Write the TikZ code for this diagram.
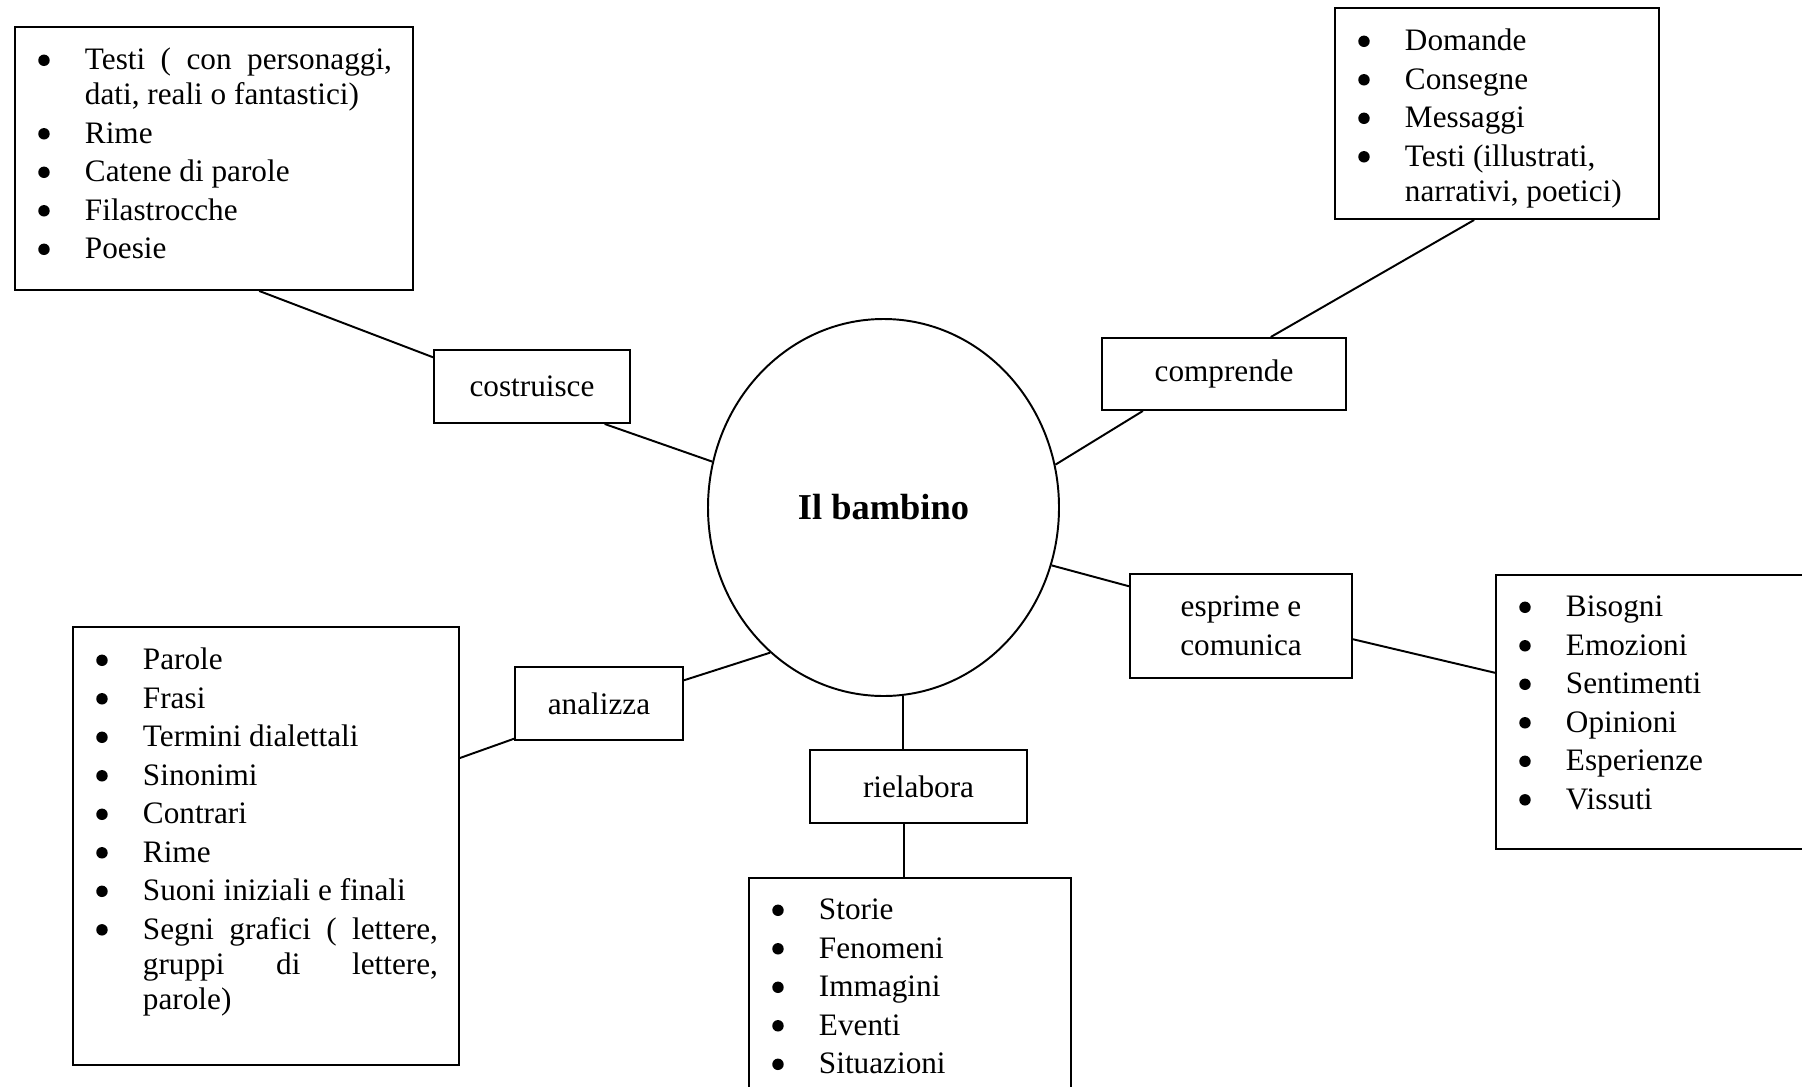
\documentclass[tikz,border=0pt]{standalone}
\usepackage{fontspec}
\setmainfont{Liberation Serif}
\usetikzlibrary{shapes.geometric,calc}

\newlength{\pxl}
\setlength{\pxl}{0.0135cm}
% bullet lists as in the word processor
\newcommand{\bigdot}{\tikz[baseline=0pt]\fill (0,3.6pt) circle (2.2pt);}
\newenvironment{bullets}{\begin{list}{\makebox[0pt]{\bigdot}}{%
  \setlength{\leftmargin}{70\pxl}\setlength{\labelwidth}{0pt}%
  \setlength{\labelsep}{41\pxl}\setlength{\rightmargin}{21\pxl}%
  \setlength{\itemsep}{3.5\pxl}\setlength{\parsep}{0pt}%
  \setlength{\topsep}{0pt}\setlength{\partopsep}{0pt}}}{\end{list}}
\newcommand{\itembox}[3]{\makebox[#1\pxl][l]{\parbox[c][#2\pxl][t]{#1\pxl}{\vspace*{21\pxl}\begin{bullets}#3\end{bullets}}}}

\tikzset{
  listbox/.style={draw, line width=0.75pt, inner sep=0pt, anchor=north west},
  verbbox/.style={draw, line width=0.75pt, inner sep=0pt, align=center},
  link/.style={line width=0.75pt},
}

\begin{document}
\begin{tikzpicture}[x=0.0135cm, y=-0.0135cm, font=\fontsize{12pt}{13.45pt}\selectfont]
    \path[use as bounding box, fill=white] (0,0) rectangle (1802,1086);

    \node[draw, ellipse, line width=0.75pt, minimum width=351*\pxl, minimum height=377*\pxl,
          font=\fontsize{14pt}{16pt}\selectfont\bfseries] (bam) at (883.5,507.5) {Il bambino};

    \node[verbbox, minimum width=196*\pxl, minimum height=73*\pxl] (costr) at (532,386.5) {costruisce};
    \node[verbbox, minimum width=244*\pxl, minimum height=72*\pxl] (compr) at (1224,374) {comprende};
    \node[verbbox, minimum width=222*\pxl, minimum height=104*\pxl] (espr) at (1241,626) {esprime e\\[1.5pt]comunica};
    \node[verbbox, minimum width=168*\pxl, minimum height=73*\pxl] (anal) at (599,703.5) {analizza};
    \node[verbbox, minimum width=217*\pxl, minimum height=73*\pxl] (riel) at (918.5,786.5) {rielabora};

    \node[listbox] (l1) at (14,26) {\itembox{398}{263}{%
        \item Testi ( con personaggi,\linebreak dati, reali o fantastici)
        \item Rime
        \item Catene di parole
        \item Filastrocche
        \item Poesie}};
    \node[listbox] (l2) at (1334,7) {\itembox{324}{211}{%
        \item Domande
        \item Consegne
        \item Messaggi
        \item Testi (illustrati,\newline narrativi, poetici)}};
    \node[listbox] (l3) at (1495,574) {\itembox{330}{274}{%
        \item Bisogni
        \item Emozioni
        \item Sentimenti
        \item Opinioni
        \item Esperienze
        \item Vissuti}};
    \node[listbox] (l4) at (72,626) {\itembox{386}{438}{%
        \item Parole
        \item Frasi
        \item Termini dialettali
        \item Sinonimi
        \item Contrari
        \item Rime
        \item Suoni iniziali e finali
        \item Segni grafici ( lettere,\linebreak gruppi di lettere,\linebreak parole)}};
    \node[listbox] (l5) at (748,877) {\itembox{322}{230}{%
        \item Storie
        \item Fenomeni
        \item Immagini
        \item Eventi
        \item Situazioni}};

    % connectors
    \draw[link] ($(l1.south west)!0.613!(l1.south east)$) -- ($(costr.north west)!0.11!(costr.south west)$);
    \draw[link] ($(costr.south west)!0.867!(costr.south east)$) -- (bam.165.5);
    \draw[link] (bam.14.7) -- ($(compr.south west)!0.17!(compr.south east)$);
    \draw[link] ($(compr.north west)!0.69!(compr.north east)$) -- ($(l2.south west)!0.43!(l2.south east)$);
    \draw[link] (bam.-19.6) -- ($(espr.north west)!0.125!(espr.south west)$);
    \draw[link] ($(espr.north east)!0.625!(espr.south east)$) -- ($(l3.north west)!0.358!(l3.south west)$);
    \draw[link] (bam.-128.5) -- ($(anal.north east)!0.19!(anal.south east)$);
    \draw[link] ($(anal.north west)!0.97!(anal.south west)$) -- ($(l4.north east)!0.30!(l4.south east)$);
    \draw[link] (bam.-84) -- (bam.-84 |- riel.north);
    \coordinate (rb) at ($(riel.south west)!0.435!(riel.south east)$);
    \draw[link] (rb) -- (rb |- l5.north);
\end{tikzpicture}
\end{document}
